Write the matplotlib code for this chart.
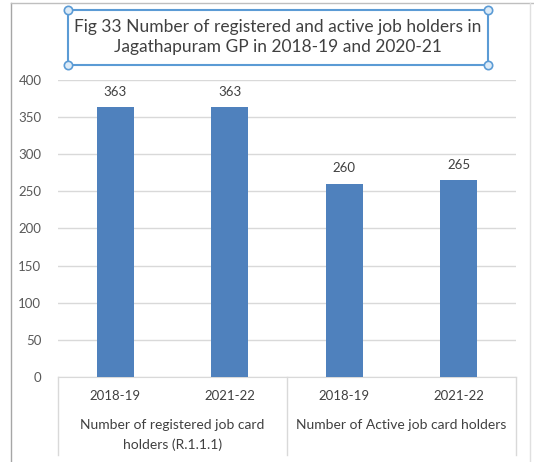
import matplotlib
matplotlib.use("Agg")
import matplotlib.pyplot as plt
from matplotlib.lines import Line2D
from matplotlib.patches import Rectangle

years = ["2018-19", "2021-22", "2018-19", "2021-22"]
groups = ["Number of registered job card\nholders (R.1.1.1)", "Number of Active job card holders"]
values = [363, 363, 260, 265]
yticks = [0, 50, 100, 150, 200, 250, 300, 350, 400]
title = "Fig 33 Number of registered and active job holders in\nJagathapuram GP in 2018-19 and 2020-21"

W, H = 534, 462
plt.rcParams["font.family"] = ["Lato", "DejaVu Sans"]
fig = plt.figure(figsize=(W / 100, H / 100), dpi=100)
text_c = "#595959"
grid_c = "#D9D9D9"
bar_c = "#4F81BD"

def fx(px):
    return px / W

def fy(py):
    return 1 - py / H

# plot area
left, right, top, bottom = 58, 516, 80, 377
ax = fig.add_axes([fx(left), fy(bottom), fx(right - left), (bottom - top) / H])
xs = list(range(len(values)))
ax.bar(xs, values, width=0.32, color=bar_c, zorder=3)
ax.set_xlim(-0.5, len(values) - 0.5)
ax.set_ylim(0, 400)
ax.set_yticks(yticks)
ax.yaxis.grid(True, color=grid_c, linewidth=1, zorder=0)
ax.set_axisbelow(True)
for s in ["top", "right", "left"]:
    ax.spines[s].set_visible(False)
ax.spines["bottom"].set_color(grid_c)
ax.tick_params(axis="y", length=0, pad=12, labelsize=9.5, labelcolor=text_c)
ax.set_xticks([])

for x, v in zip(xs, values):
    ax.annotate(str(v), (x, v), xytext=(0, 7), textcoords="offset points",
                ha="center", va="bottom", fontsize=9.5, color="#404040")

# category axis: years and group labels with separators
trans = ax.get_xaxis_transform()
span = bottom - top
depth = -(455 - bottom) / span
for x in [-0.5, 1.5, 3.5]:
    ax.add_line(Line2D([x, x], [0, depth], transform=trans, color=grid_c,
                       linewidth=1, clip_on=False))
y_year = -(396 - bottom) / span
for x, lab in zip(xs, years):
    ax.text(x, y_year, lab, transform=trans, ha="center", va="center",
            fontsize=9.5, color="#404040")
y_grp = -(425 - bottom) / span
for gi, lab in enumerate(groups):
    first, *rest = lab.split("\n")
    ax.text(gi * 2 + 0.5, y_grp, first, transform=trans, ha="center",
            va="center", fontsize=10, color="#404040")
    for k, line in enumerate(rest, start=1):
        ax.text(gi * 2 + 0.5, -(425 + 20 * k - bottom) / span, line,
                transform=trans, ha="center", va="center", fontsize=10,
                color="#404040")

# outer frame
frame_c = "#BFBFBF"
fig.add_artist(Line2D([fx(11), fx(11)], [fy(3), 0], transform=fig.transFigure,
                      color="#A6A6A6", linewidth=1))
fig.add_artist(Line2D([fx(11), 1], [fy(3), fy(3)], transform=fig.transFigure,
                      color=frame_c, linewidth=1))
fig.add_artist(Line2D([fx(530), fx(530)], [fy(3), 0], transform=fig.transFigure,
                      color="#E0E0E0", linewidth=1))

# title box with handles
bx0, by0, bx1, by1 = 68, 10, 488, 65
box_c = "#5B9BD5"
fig.add_artist(Rectangle((fx(bx0), fy(by1)), fx(bx1 - bx0), (by1 - by0) / H,
                         transform=fig.transFigure, fill=False, edgecolor=box_c,
                         linewidth=1.5))
for (px, py) in [(bx0, by0), (bx1, by0), (bx0, by1), (bx1, by1)]:
    fig.add_artist(Line2D([fx(px)], [fy(py)], transform=fig.transFigure,
                          marker="o", markersize=6, markerfacecolor="#DDEBF7",
                          markeredgecolor=box_c, markeredgewidth=1.2))
for i, line in enumerate(title.split("\n")):
    fig.text(fx((bx0 + bx1) / 2), fy(27 + 20 * i), line, ha="center",
             va="center", fontsize=12.5, color="#404040")

fig.savefig("out.png", dpi=100)
